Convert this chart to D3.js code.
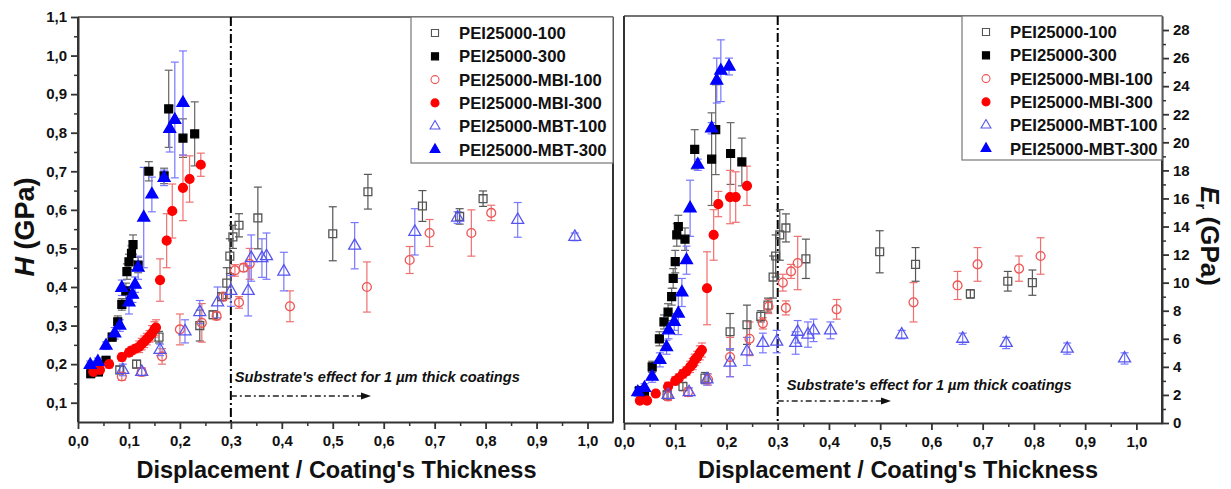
<!DOCTYPE html>
<html>
<head>
<meta charset="utf-8">
<script src="https://cdn.jsdelivr.net/npm/d3@7"></script>
<style>
  body { margin: 0; background: #fff; }
  svg { font-family: "Liberation Sans", Arial, sans-serif; font-weight: bold; }
  .axis path, .axis line { stroke: #333; }
  .axis text { font-size: 15px; font-weight: bold; fill: #111; }
</style>
</head>
<body>
<svg id="chart" width="1231" height="489"></svg>
<script>
// ---- data: hardness H (GPa), left panel ----
var seriesNames = ["PEI25000-100", "PEI25000-300", "PEI25000-MBI-100", "PEI25000-MBI-300", "PEI25000-MBT-100", "PEI25000-MBT-300"];

var hPei100X = [0.082,0.115,0.159,0.239,0.265,0.282,0.292,0.298,0.304,0.316,0.353,0.5,0.569,0.676,0.749,0.795];
var hPei100Y = [0.185,0.2,0.27,0.3,0.328,0.375,0.41,0.48,0.53,0.56,0.579,0.538,0.647,0.61,0.583,0.629];
var hPei100E = [0.01,0.01,0.015,0.04,0.01,0.01,0.04,0.045,0.03,0.03,0.08,0.07,0.045,0.04,0.02,0.02];

var hPei300X = [0.025,0.04,0.055,0.067,0.078,0.086,0.094,0.096,0.1,0.105,0.108,0.118,0.139,0.169,0.178,0.206,0.229];
var hPei300Y = [0.175,0.18,0.21,0.27,0.31,0.355,0.39,0.44,0.465,0.487,0.51,0.457,0.70,0.688,0.862,0.786,0.797];
var hPei300E = [0.01,0.01,0.01,0.01,0.015,0.015,0.02,0.02,0.02,0.02,0.025,0.02,0.025,0.02,0.1,0.05,0.083];

var hMbi100X = [0.086,0.125,0.165,0.2,0.243,0.272,0.285,0.308,0.316,0.325,0.337,0.416,0.567,0.651,0.69,0.772,0.811];
var hMbi100Y = [0.168,0.18,0.22,0.29,0.307,0.325,0.375,0.443,0.36,0.45,0.46,0.35,0.40,0.47,0.54,0.54,0.592];
var hMbi100E = [0.01,0.01,0.02,0.04,0.05,0.01,0.01,0.015,0.015,0.01,0.04,0.04,0.065,0.035,0.035,0.06,0.02];

var hMbi300X = [0.03,0.043,0.061,0.086,0.1,0.105,0.113,0.12,0.125,0.13,0.135,0.14,0.145,0.15,0.153,0.161,0.174,0.185,0.206,0.219,0.241];
var hMbi300Y = [0.18,0.185,0.2,0.218,0.23,0.235,0.24,0.245,0.252,0.258,0.265,0.272,0.28,0.29,0.295,0.418,0.52,0.597,0.657,0.68,0.717];
var hMbi300E = [0.01,0.01,0.01,0.01,0.01,0.01,0.01,0.015,0.015,0.015,0.015,0.015,0.02,0.02,0.02,0.055,0.07,0.07,0.085,0.06,0.03];

var hMbt100X = [0.088,0.125,0.161,0.21,0.239,0.274,0.3,0.334,0.34,0.361,0.37,0.404,0.543,0.661,0.745,0.863,0.975];
var hMbt100Y = [0.185,0.18,0.237,0.285,0.335,0.36,0.39,0.39,0.475,0.475,0.48,0.44,0.507,0.543,0.58,0.574,0.53];
var hMbt100E = [0.015,0.01,0.015,0.03,0.03,0.04,0.04,0.065,0.06,0.05,0.06,0.05,0.06,0.06,0.015,0.045,0.01];

var hMbt300X = [0.024,0.039,0.055,0.072,0.082,0.086,0.1,0.107,0.112,0.118,0.129,0.145,0.169,0.18,0.19,0.206];
var hMbt300Y = [0.198,0.206,0.248,0.28,0.3,0.398,0.36,0.38,0.406,0.45,0.58,0.64,0.683,0.81,0.833,0.877];
var hMbt300E = [0.01,0.01,0.01,0.015,0.015,0.02,0.03,0.02,0.02,0.03,0.13,0.045,0.02,0.06,0.15,0.135];

// ---- data: reduced modulus Er (GPa), right panel ----
var ePei100X = [0.084,0.115,0.158,0.207,0.24,0.267,0.281,0.291,0.296,0.304,0.316,0.355,0.499,0.569,0.676,0.749,0.797];
var ePei100Y = [2.0,2.6,3.2,6.5,7.0,7.6,8.4,10.4,11.9,13.4,13.9,11.7,12.2,11.3,9.2,10.1,10.0];
var ePei100E = [0.3,0.3,0.4,1.3,1.4,0.4,0.5,1.5,1.5,1.8,1.0,1.4,1.5,1.2,0.3,0.7,0.9];

var ePei300X = [0.03,0.04,0.055,0.069,0.078,0.086,0.093,0.096,0.1,0.103,0.106,0.119,0.138,0.171,0.179,0.208,0.23];
var ePei300Y = [2.3,2.2,4.0,6.0,7.2,7.9,9.0,10.3,11.5,13.4,14.0,13.1,19.5,18.8,20.9,19.2,18.6];
var ePei300E = [0.3,0.3,0.4,0.5,0.5,0.6,0.6,0.7,0.8,0.8,0.8,0.8,1.4,3.3,3.2,2.2,1.7];

var eMbi100X = [0.086,0.125,0.164,0.207,0.245,0.271,0.282,0.31,0.316,0.326,0.339,0.415,0.565,0.651,0.69,0.771,0.813];
var eMbi100Y = [1.9,2.2,3.1,4.7,6.0,7.1,8.3,10.0,8.2,10.8,11.4,8.1,8.6,9.8,11.3,11.0,11.9];
var eMbi100E = [0.3,0.3,0.4,1.4,1.2,0.4,0.5,0.6,0.5,0.5,1.9,0.7,1.4,1.0,1.2,0.9,1.3];

var eMbi300X = [0.031,0.045,0.062,0.086,0.1,0.107,0.115,0.122,0.129,0.134,0.138,0.143,0.148,0.152,0.162,0.175,0.184,0.207,0.218,0.24];
var eMbi300Y = [1.6,1.6,2.1,2.6,3.0,3.2,3.5,3.7,4.0,4.2,4.5,4.7,5.0,5.2,9.6,13.4,15.6,16.1,16.1,16.9];
var eMbi300E = [0.2,0.2,0.2,0.3,0.3,0.3,0.3,0.3,0.4,0.4,0.4,0.4,0.5,0.5,2.6,1.8,0.9,1.9,1.8,1.4];

var eMbt100X = [0.086,0.127,0.162,0.207,0.24,0.271,0.298,0.335,0.339,0.359,0.37,0.403,0.542,0.661,0.746,0.865,0.977];
var eMbt100Y = [2.0,2.2,3.1,4.3,5.1,5.7,5.8,5.7,6.5,6.3,6.6,6.6,6.3,6.0,5.7,5.3,4.6];
var eMbt100E = [0.3,0.3,0.4,1.0,1.0,0.7,0.8,0.8,0.8,0.9,0.8,0.6,0.3,0.4,0.4,0.4,0.4];

var eMbt300X = [0.027,0.04,0.055,0.07,0.083,0.087,0.098,0.106,0.113,0.122,0.129,0.144,0.171,0.181,0.189,0.205];
var eMbt300Y = [2.2,2.5,3.3,4.5,5.4,6.6,7.2,7.8,9.3,11.6,15.3,18.4,21.0,24.4,25.1,25.4];
var eMbt300E = [0.3,0.3,0.4,0.5,0.5,0.6,0.6,1.5,1.0,1.0,2.0,0.4,0.4,1.6,2.2,0.6];

var xTicks = [0,0.1,0.2,0.3,0.4,0.5,0.6,0.7,0.8,0.9,1.0];
var hTicks = [0.1,0.2,0.3,0.4,0.5,0.6,0.7,0.8,0.9,1.0,1.1];
var eTicks = [0,2,4,6,8,10,12,14,16,18,20,22,24,26,28];
var substrateX = 0.3;
var noteText = "Substrate's effect for 1 \u00b5m thick coatings";

// marker styles per series (legend order)
var styles = [
  {shape: d3.symbolSquare,   fill: "none",    stroke: "#555", bar: "#555"},
  {shape: d3.symbolSquare,   fill: "#000",    stroke: "#000", bar: "#666"},
  {shape: d3.symbolCircle,   fill: "none",    stroke: "#ee5555", bar: "#ee7070"},
  {shape: d3.symbolCircle,   fill: "#ff0000", stroke: "#ff0000", bar: "#f07070"},
  {shape: d3.symbolTriangle, fill: "none",    stroke: "#5555ee", bar: "#7777ff"},
  {shape: d3.symbolTriangle, fill: "#0000ff", stroke: "#0000ff", bar: "#7777ff"}
];
var symSize = {};
symSize[d3.symbolSquare] = 95;
symSize[d3.symbolCircle] = 95;
symSize[d3.symbolTriangle] = 62;

function zip(xs, ys, es){
  return xs.map(function(x, i){ return {x: x, y: ys[i], e: es[i]}; });
}

var hSeries = [
  zip(hPei100X, hPei100Y, hPei100E), zip(hPei300X, hPei300Y, hPei300E),
  zip(hMbi100X, hMbi100Y, hMbi100E), zip(hMbi300X, hMbi300Y, hMbi300E),
  zip(hMbt100X, hMbt100Y, hMbt100E), zip(hMbt300X, hMbt300Y, hMbt300E)
];
var eSeries = [
  zip(ePei100X, ePei100Y, ePei100E), zip(ePei300X, ePei300Y, ePei300E),
  zip(eMbi100X, eMbi100Y, eMbi100E), zip(eMbi300X, eMbi300Y, eMbi300E),
  zip(eMbt100X, eMbt100Y, eMbt100E), zip(eMbt300X, eMbt300Y, eMbt300E)
];

var svg = d3.select("#chart");
var comma = function(d){ return d3.format(".1f")(d).replace(".", ","); };

function drawPanel(opt){
  var x = d3.scaleLinear().domain([0, 1.05]).range([opt.left, opt.right]);
  var y = d3.scaleLinear().domain(opt.yDomain).range([opt.bottom, opt.top]);
  var g = svg.append("g");

  // frame
  g.append("line").attr("x1", opt.left).attr("x2", opt.right).attr("y1", opt.top).attr("y2", opt.top)
    .attr("stroke", "#444").attr("stroke-width", 1.6);
  g.append("line").attr("x1", opt.left).attr("x2", opt.left).attr("y1", opt.top).attr("y2", opt.bottom)
    .attr("stroke", "#333").attr("stroke-width", 2);
  g.append("line").attr("x1", opt.right).attr("x2", opt.right).attr("y1", opt.top).attr("y2", opt.bottom)
    .attr("stroke", "#333").attr("stroke-width", 2);

  // x axis, major + minor
  var minorX = d3.range(0.05, 1.05, 0.1);
  g.append("g").attr("class", "axis").attr("transform", "translate(0," + opt.bottom + ")")
    .call(d3.axisBottom(x).tickValues(minorX).tickSize(4).tickFormat(""))
    .call(function(a){ a.select(".domain").remove(); a.selectAll("line").attr("stroke-width", 1.5); });
  g.append("g").attr("class", "axis").attr("transform", "translate(0," + opt.bottom + ")")
    .call(d3.axisBottom(x).tickValues(xTicks).tickSize(7).tickSizeOuter(0).tickPadding(6).tickFormat(comma))
    .call(function(a){ a.select(".domain").attr("stroke-width", 2.2); a.selectAll("line").attr("stroke-width", 1.8); });

  // y axis
  var yAxisX = opt.yRight ? opt.right : opt.left;
  var axisFn = opt.yRight ? d3.axisRight : d3.axisLeft;
  g.append("g").attr("class", "axis").attr("transform", "translate(" + yAxisX + ",0)")
    .call(axisFn(y).tickValues(opt.yMinor).tickSize(4).tickFormat(""))
    .call(function(a){ a.select(".domain").remove(); a.selectAll("line").attr("stroke-width", 1.5); });
  g.append("g").attr("class", "axis").attr("transform", "translate(" + yAxisX + ",0)")
    .call(axisFn(y).tickValues(opt.yTicks).tickSize(7).tickSizeOuter(0).tickPadding(4).tickFormat(opt.yFormat))
    .call(function(a){ a.select(".domain").attr("stroke-width", 2); a.selectAll("line").attr("stroke-width", 1.8); });

  // substrate line
  g.append("line").attr("x1", x(substrateX)).attr("x2", x(substrateX))
    .attr("y1", opt.top).attr("y2", opt.bottom)
    .attr("stroke", "#000").attr("stroke-width", 2).attr("stroke-dasharray", "9,3,2,3");

  // error bars
  opt.series.forEach(function(s, i){
    var st = styles[i];
    var eb = g.append("g").attr("stroke", st.bar).attr("stroke-width", 1.2).attr("fill", "none");
    s.forEach(function(d){
      var cx = x(d.x), y0 = y(d.y - d.e), y1 = y(d.y + d.e);
      eb.append("line").attr("x1", cx).attr("x2", cx).attr("y1", y0).attr("y2", y1);
      eb.append("line").attr("x1", cx - 4).attr("x2", cx + 4).attr("y1", y0).attr("y2", y0);
      eb.append("line").attr("x1", cx - 4).attr("x2", cx + 4).attr("y1", y1).attr("y2", y1);
    });
  });
  // markers
  opt.series.forEach(function(s, i){
    var st = styles[i];
    var sym = d3.symbol().type(st.shape).size(symSize[st.shape]);
    g.append("g").selectAll("path").data(s).enter().append("path")
      .attr("d", sym)
      .attr("transform", function(d){ return "translate(" + x(d.x) + "," + y(d.y) + ")"; })
      .attr("fill", st.fill).attr("stroke", st.stroke).attr("stroke-width", 1.3);
  });

  // substrate annotation
  g.append("text").attr("x", x(substrateX) + opt.noteDx).attr("y", opt.noteY)
    .attr("font-size", 14.6).attr("font-style", "italic").attr("font-weight", "bold").attr("fill", "#111")
    .text(noteText);
  g.append("line").attr("x1", x(substrateX)).attr("x2", opt.arrowEnd - 8)
    .attr("y1", opt.arrowY).attr("y2", opt.arrowY)
    .attr("stroke", "#222").attr("stroke-width", 1.3).attr("stroke-dasharray", "6,3,2,3");
  g.append("path")
    .attr("d", "M" + opt.arrowEnd + "," + opt.arrowY + " l-10,-3.5 l0,7 z").attr("fill", "#111");

  // legend
  var lg = g.append("g");
  lg.append("rect").attr("x", opt.legX).attr("y", opt.top).attr("width", opt.legW).attr("height", opt.legH)
    .attr("fill", "#fff").attr("stroke", "#777").attr("stroke-width", 1.2);
  seriesNames.forEach(function(name, i){
    var st = styles[i];
    var ry = opt.top + 16 + i * 23.3;
    lg.append("path").attr("d", d3.symbol().type(st.shape).size(st.shape === d3.symbolTriangle ? 42 : 50)())
      .attr("transform", "translate(" + (opt.legX + 24) + "," + ry + ")")
      .attr("fill", st.fill).attr("stroke", st.stroke).attr("stroke-width", 1.1);
    lg.append("text").attr("x", opt.legX + 48).attr("y", ry + 6)
      .attr("font-size", 16.7).attr("font-weight", "bold").attr("fill", "#111").text(name);
  });

  // x title
  g.append("text").attr("x", (opt.left + opt.right) / 2 + opt.titleShift).attr("y", 478)
    .attr("text-anchor", "middle").attr("font-size", 23.5).attr("font-weight", "bold").attr("fill", "#111")
    .text("Displacement / Coating's Thickness");
}

drawPanel({
  left: 78, right: 613, top: 17, bottom: 422,
  yDomain: [0.05, 1.1], yTicks: hTicks, yMinor: d3.range(0.15, 1.1, 0.1), yFormat: comma, yRight: false,
  series: hSeries, noteY: 382, noteDx: 4, arrowY: 396, arrowEnd: 371,
  legX: 411, legW: 202, legH: 146, titleShift: -9
});
drawPanel({
  left: 624, right: 1162, top: 16, bottom: 423,
  yDomain: [0, 29], yTicks: eTicks, yMinor: d3.range(1, 29, 2), yFormat: d3.format("d"), yRight: true,
  series: eSeries, noteY: 390, noteDx: 9, arrowY: 401, arrowEnd: 891,
  legX: 962, legW: 200, legH: 144, titleShift: 5
});

// y titles
var hTitle = svg.append("text").attr("transform", "translate(34,227) rotate(-90)")
  .attr("text-anchor", "middle").attr("font-size", 27).attr("font-weight", "bold").attr("fill", "#111");
hTitle.append("tspan").attr("font-style", "italic").text("H");
hTitle.append("tspan").text(" (GPa)");

var eTitle = svg.append("text").attr("transform", "translate(1201,236) rotate(90)")
  .attr("text-anchor", "middle").attr("font-size", 26).attr("font-weight", "bold").attr("fill", "#111");
eTitle.append("tspan").attr("font-style", "italic").text("E");
eTitle.append("tspan").attr("font-size", 15).attr("dy", 5).text("r");
eTitle.append("tspan").attr("dy", -5).text(" (GPa)");
</script>
</body>
</html>
